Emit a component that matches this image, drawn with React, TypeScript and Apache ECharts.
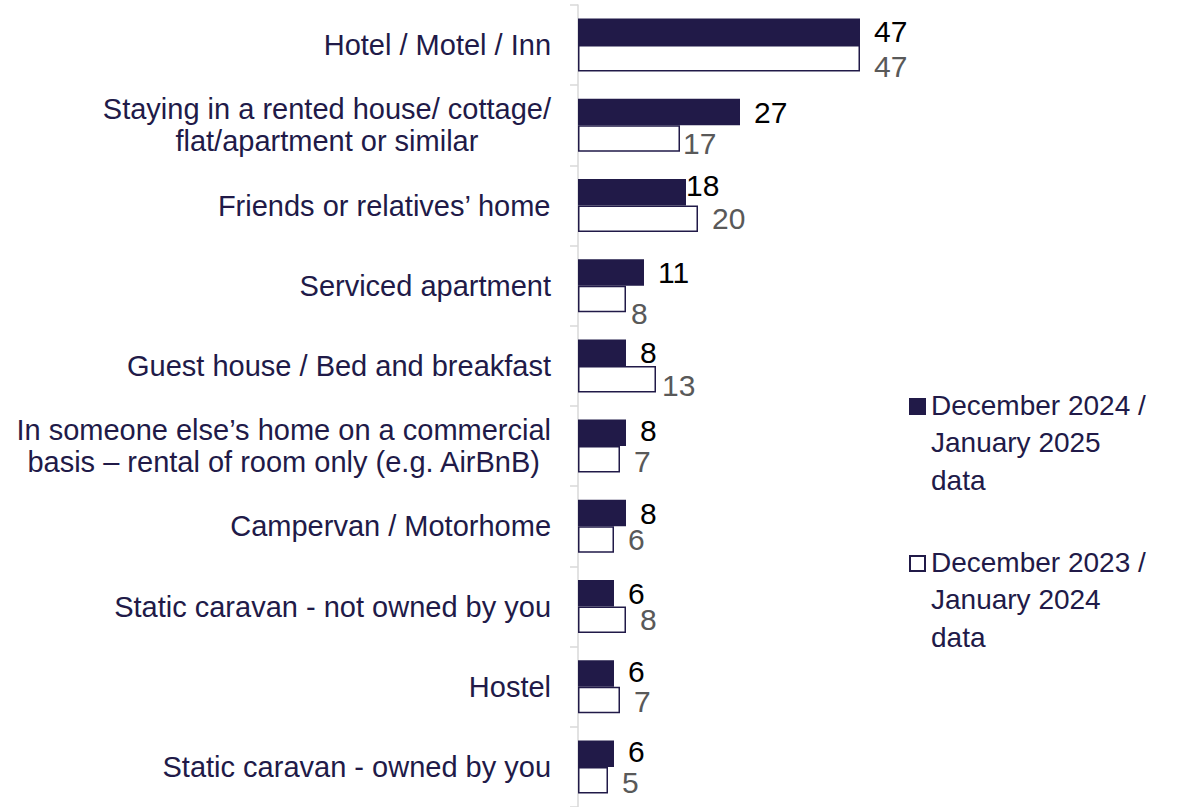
import React, { useEffect, useRef } from "react";
import * as echarts from "echarts";

const categories = [
  "Hotel / Motel / Inn",
  "Staying in a rented house/ cottage/\nflat/apartment or similar",
  "Friends or relatives’ home",
  "Serviced apartment",
  "Guest house / Bed and breakfast",
  "In someone else’s home on a commercial\nbasis – rental of room only (e.g. AirBnB)",
  "Campervan / Motorhome",
  "Static caravan - not owned by you",
  "Hostel",
  "Static caravan - owned by you",
];
const seriesNames = [
  "December 2024 / January 2025 data",
  "December 2023 / January 2024 data",
];
const legendLabels = [
  "December 2024 /\nJanuary 2025\ndata",
  "December 2023 /\nJanuary 2024\ndata",
];
const values2025 = [47, 27, 18, 11, 8, 8, 8, 6, 6, 6];
const values2024 = [47, 17, 20, 8, 13, 7, 6, 8, 7, 5];

// label nudges (style only), [dx, dy] per category
const labelNudge2025 = [[0, 0], [0, 0], [-14, -7], [0, 0], [0, 0], [0, -2], [0, 0], [0, 0], [0, -2], [0, -2]];
const labelNudge2024 = [[0, 8], [-11, 5], [0, 0], [-9, 15], [-8, 6], [0, 2], [0, 0], [0, 0], [0, 2], [0, 2]];

const NAVY = "#211a48";
const FONT = "'Liberation Sans', Arial, sans-serif";

export default function App() {
  const ref = useRef<HTMLDivElement>(null);
  useEffect(() => {
    if (!ref.current) return;
    const chart = echarts.init(ref.current, undefined, { renderer: "svg" });
    const legendText = (y: number, text: string) => ({
      type: "text",
      left: 931,
      top: y,
      silent: true,
      style: {
        text,
        fontSize: 28,
        lineHeight: 37.5,
        fill: NAVY,
        fontFamily: FONT,
        verticalAlign: "top",
      },
    });
    chart.setOption({
      animation: false,
      textStyle: { fontFamily: FONT },
      grid: { left: 578, top: 5, width: 300, height: 805, containLabel: false },
      xAxis: { type: "value", min: 0, max: 50, show: false },
      yAxis: {
        type: "category",
        inverse: true,
        data: categories,
        axisLine: { show: true, lineStyle: { color: "#d9d9d9", width: 1.5 } },
        axisTick: { show: true, length: 8, lineStyle: { color: "#d9d9d9", width: 1.5 } },
        axisLabel: {
          margin: 27,
          formatter: (v: string) => v.split("\n").map((l) => `{c|${l}}`).join("\n"),
          rich: {
            c: { align: "center", fontSize: 29, lineHeight: 32, color: NAVY, fontFamily: FONT },
          },
        },
        splitLine: { show: false },
      },
      graphic: [
        {
          type: "rect",
          silent: true,
          shape: { x: 909, y: 398, width: 17, height: 17 },
          style: { fill: NAVY },
        },
        legendText(386.5, legendLabels[0]),
        {
          type: "rect",
          silent: true,
          shape: { x: 910, y: 556, width: 15, height: 15 },
          style: { fill: "#ffffff", stroke: NAVY, lineWidth: 2 },
        },
        legendText(543.5, legendLabels[1]),
      ],
      series: [
        {
          name: seriesNames[0],
          type: "bar",
          barWidth: 26.5,
          barGap: "0%",
          itemStyle: { color: NAVY },
          emphasis: { disabled: true },
          label: {
            show: true,
            position: "right",
            distance: 14,
            fontSize: 30,
            lineHeight: 24,
            color: "#000000",
            fontFamily: FONT,
          },
          data: values2025.map((v, i) => ({ value: v, label: { offset: labelNudge2025[i] } })),
        },
        {
          name: seriesNames[1],
          type: "bar",
          barWidth: 26.5,
          barGap: "0%",
          itemStyle: { color: "#ffffff", borderColor: NAVY, borderWidth: 1.5 },
          emphasis: { disabled: true },
          label: {
            show: true,
            position: "right",
            distance: 14,
            fontSize: 30,
            lineHeight: 24,
            color: "#595959",
            fontFamily: FONT,
          },
          data: values2024.map((v, i) => ({ value: v, label: { offset: labelNudge2024[i] } })),
        },
      ],
    });
    return () => chart.dispose();
  }, []);
  return (
    <div
      ref={ref}
      style={{ position: "fixed", left: 0, top: 0, width: 1182, height: 807, background: "#fff" }}
    />
  );
}
